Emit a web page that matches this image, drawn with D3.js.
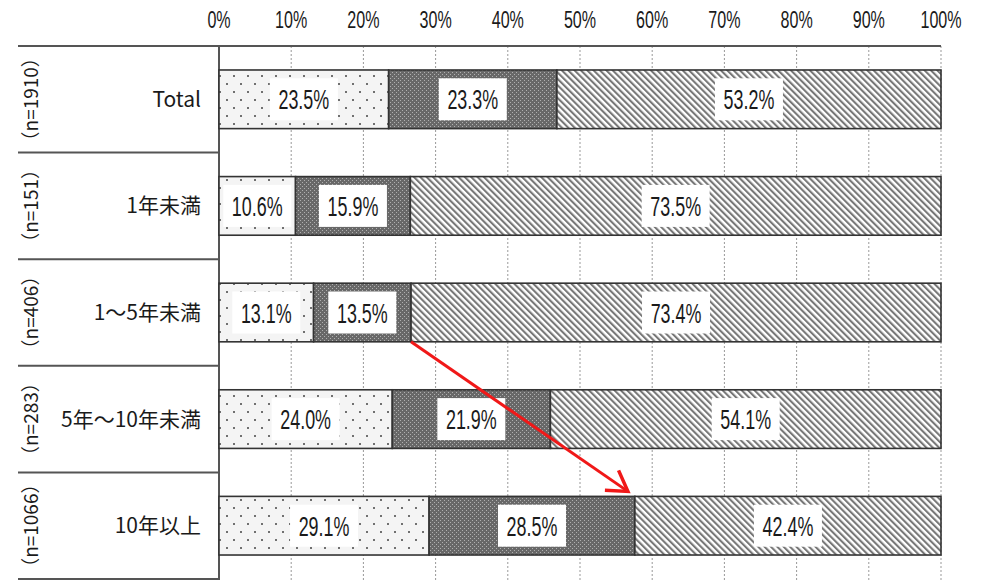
<!DOCTYPE html>
<html>
<head>
<meta charset="utf-8">
<script src="https://cdn.jsdelivr.net/npm/d3@7"></script>
<style>
  body { margin: 0; background: #fff; }
  svg { display: block; }
  .num { font-family: "Liberation Sans", Arial, sans-serif; fill: #1a1a1a; }
  .cat { font-family: "Noto Sans CJK JP", sans-serif; fill: #1a1a1a; }
</style>
</head>
<body>
<svg id="chart" width="989" height="580"></svg>
<script>
// data
const categories = ["Total", "1年未満", "1～5年未満", "5年～10年未満", "10年以上"];
const nLabels = ["（n=1910）", "（n=151）", "（n=406）", "（n=283）", "（n=1066）"];
const series1 = [23.5, 10.6, 13.1, 24.0, 29.1];
const series2 = [23.3, 15.9, 13.5, 21.9, 28.5];
const series3 = [53.2, 73.5, 73.4, 54.1, 42.4];
const ticks = [0, 10, 20, 30, 40, 50, 60, 70, 80, 90, 100];
// arrow goes from end of series2 in row "1～5年未満" to row "10年以上"
const arrowFrom = 2, arrowTo = 4;

const svg = d3.select("#chart");
const mLeft = 219, mRight = 941, mTop = 46, mBottom = 579, rowLeft = 18;

const x = d3.scaleLinear().domain([0, 100]).range([mLeft, mRight]);
const y = d3.scaleBand().domain(categories).range([mTop, mBottom]).paddingInner(0.45).paddingOuter(0.225);
const band = d3.scaleBand().domain(categories).range([mTop, mBottom]);

// patterns
const defs = svg.append("defs");
let p1 = defs.append("pattern").attr("id", "dots").attr("patternUnits", "userSpaceOnUse")
  .attr("width", 14).attr("height", 16);
p1.append("rect").attr("width", 14).attr("height", 16).attr("fill", "#f4f4f4");
p1.append("circle").attr("cx", 3).attr("cy", 4).attr("r", 1).attr("fill", "#444");
p1.append("circle").attr("cx", 10).attr("cy", 12).attr("r", 1).attr("fill", "#444");

let p2 = defs.append("pattern").attr("id", "checker").attr("patternUnits", "userSpaceOnUse")
  .attr("width", 4).attr("height", 4);
p2.append("rect").attr("width", 4).attr("height", 4).attr("fill", "#686868");
p2.append("rect").attr("width", 1).attr("height", 1).attr("fill", "#b0b0b0");
p2.append("rect").attr("x", 2).attr("y", 2).attr("width", 1).attr("height", 1).attr("fill", "#b0b0b0");

let p3 = defs.append("pattern").attr("id", "hatch").attr("patternUnits", "userSpaceOnUse")
  .attr("width", 4.5).attr("height", 4.5).attr("patternTransform", "rotate(-45)");
p3.append("rect").attr("width", 4.5).attr("height", 4.5).attr("fill", "#fff");
p3.append("rect").attr("width", 2.1).attr("height", 4.5).attr("fill", "#777");

const fills = ["url(#dots)", "url(#checker)", "url(#hatch)"];

// gridlines
svg.append("g").selectAll("line").data(ticks.slice(1)).join("line")
  .attr("x1", d => x(d)).attr("x2", d => x(d))
  .attr("y1", mTop).attr("y2", mBottom + 1)
  .attr("stroke", "#999").attr("stroke-width", 1).attr("stroke-dasharray", "2,2");

// top tick labels
svg.append("g").selectAll("text").data(ticks).join("text")
  .attr("class", "num")
  .attr("text-anchor", "middle")
  .attr("font-size", 24)
  .attr("transform", d => `translate(${x(d)},28) scale(0.67,1)`)
  .text(d => d + "%");

// row separator lines
svg.append("g").selectAll("line").data(categories.slice(1).concat(["_end"])).join("line")
  .attr("x1", rowLeft).attr("x2", mLeft)
  .attr("y1", (d, i) => i < categories.length - 1 ? band(d) : mBottom)
  .attr("y2", (d, i) => i < categories.length - 1 ? band(d) : mBottom)
  .attr("stroke", "#555").attr("stroke-width", 2);

svg.append("line").attr("x1", rowLeft).attr("x2", mRight).attr("y1", mTop).attr("y2", mTop)
  .attr("stroke", "#555").attr("stroke-width", 2);
svg.append("line").attr("x1", mLeft).attr("x2", mLeft).attr("y1", mTop).attr("y2", mBottom + 1)
  .attr("stroke", "#555").attr("stroke-width", 2);

// stacked data
const rows = categories.map((c, i) => {
  const vals = [series1[i], series2[i], series3[i]];
  let acc = 0;
  return { cat: c, n: nLabels[i], segs: vals.map((v, k) => { const s = { k, v, x0: acc, x1: acc + v }; acc += v; return s; }) };
});

const rowG = svg.append("g").selectAll("g").data(rows).join("g");

rowG.selectAll("rect.seg").data(d => d.segs.map(s => ({ ...s, cat: d.cat }))).join("rect")
  .attr("class", "seg")
  .attr("x", d => x(d.x0)).attr("width", d => x(d.x1) - x(d.x0))
  .attr("y", d => y(d.cat)).attr("height", y.bandwidth())
  .attr("fill", d => fills[d.k])
  .attr("stroke", "#333").attr("stroke-width", 1.6);

const boxW = 68, boxH = 42;
const lab = rowG.selectAll("g.lab").data(d => d.segs.map(s => ({ ...s, cat: d.cat }))).join("g")
  .attr("class", "lab")
  .attr("transform", d => `translate(${(x(d.x0) + x(d.x1)) / 2},${y(d.cat) + y.bandwidth() / 2})`);
lab.append("rect").attr("x", -boxW / 2).attr("y", -boxH / 2).attr("width", boxW).attr("height", boxH).attr("fill", "#fff");
lab.append("text").attr("class", "num")
  .attr("text-anchor", "middle").attr("dy", "0.36em")
  .attr("font-size", 28)
  .attr("transform", "scale(0.64,1)")
  .text(d => d.v.toFixed(1) + "%");

// category labels
rowG.append("text").attr("class", "cat")
  .attr("x", 201).attr("y", d => band(d.cat) + band.bandwidth() / 2)
  .attr("dy", "0.36em").attr("text-anchor", "end")
  .attr("font-size", 21)
  .text(d => d.cat);

// n labels, rotated
rowG.append("text").attr("class", "cat")
  .attr("transform", d => `translate(38,${band(d.cat) + band.bandwidth() / 2}) rotate(-90)`)
  .attr("text-anchor", "middle")
  .attr("font-size", 19)
  .text(d => d.n);

// red arrow
const xa = x(series1[arrowFrom] + series2[arrowFrom]);
const ya = y(categories[arrowFrom]) + y.bandwidth();
const xb = x(series1[arrowTo] + series2[arrowTo]) - 7;
const yb = y(categories[arrowTo]) - 5;
const ang = Math.atan2(yb - ya, xb - xa);
const arm = 23, spread = 0.55;
svg.append("line").attr("x1", xa).attr("y1", ya).attr("x2", xb).attr("y2", yb)
  .attr("stroke", "#f01818").attr("stroke-width", 3);
svg.append("path")
  .attr("d", `M${xb - arm * Math.cos(ang - spread)},${yb - arm * Math.sin(ang - spread)} L${xb},${yb} L${xb - arm * Math.cos(ang + spread)},${yb - arm * Math.sin(ang + spread)}`)
  .attr("fill", "none").attr("stroke", "#f01818").attr("stroke-width", 3.5).attr("stroke-linejoin", "miter");
</script>
</body>
</html>
